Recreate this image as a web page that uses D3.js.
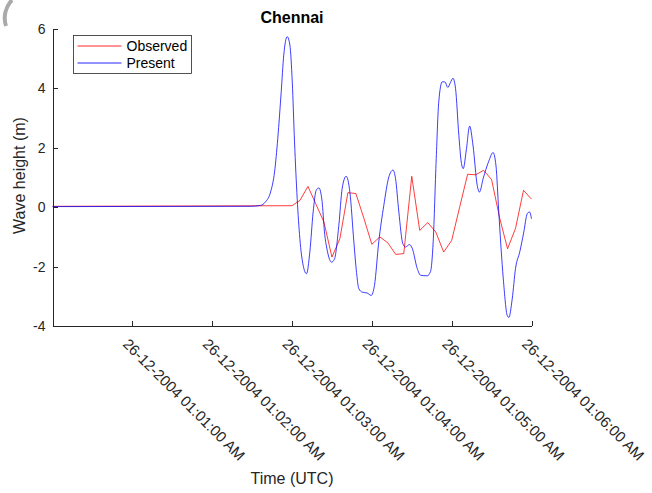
<!DOCTYPE html>
<html>
<head>
<meta charset="utf-8">
<script src="https://cdn.jsdelivr.net/npm/d3@7"></script>
<style>
  body { margin: 0; background: #fff; }
  svg { font-family: "Liberation Sans", Arial, Helvetica, sans-serif; }
</style>
</head>
<body>
<svg id="chart" width="652" height="493"></svg>
<script>
// seconds after 26-12-2004 01:00:00 UTC, and wave height (m)
var presentSec = [0, 148.8, 156.3, 160.1, 163.9, 166.9, 169.3, 171.9, 173.8, 176.4, 178.4, 180.2, 181.9, 183.9,
  185.9, 188.4, 190.9, 193.4, 195.9, 198.2, 200.2, 202.6, 204.4, 206.7, 209.7, 211.9, 215.2, 217.7, 220.7, 223.5,
  226.5, 228.5, 230.2, 232.8, 236.5, 239.5, 242.0, 245.2, 249.0, 252.8, 255.9, 257.8, 260.3, 263.3, 265.3, 268.3,
  270.4, 274.1, 276.6, 281.6, 284.1, 286.1, 288.4, 290.3, 292.9, 294.9, 297.1, 299.1, 301.0, 302.9, 305.4, 307.2,
  308.7, 311.0, 313.5, 316.1, 319.2, 320.9, 323.7, 327.9, 331.1, 333.3, 335.4, 338.8, 341.8, 343.0, 345.5, 348.0,
  351.2, 354.2, 356.8, 358.5, 360];
var presentVal = [0.02, 0.03, 0.06, 0.18, 0.51, 1.19, 2.31, 3.89, 5.12, 5.74, 5.46, 4.22, 2.2, 0.29,
  -1.06, -1.96, -2.24, -1.51, -0.16, 0.57, 0.65, 0.2, -0.83, -1.5, -1.85, -1.75, -0.61, 0.63, 1.04, 0.51,
  -1.17, -2.2, -2.74, -2.86, -2.89, -2.97, -2.63, -1.17, 0.06, 1.02, 1.25, 0.97, -0.16, -1.23, -1.34, -1.26,
  -1.39, -2.06, -2.29, -2.31, -2.17, -1.17, 1.64, 3.55, 4.22, 4.22, 4.03, 4.2, 4.34, 4.0, 2.42, 1.52,
  1.3, 1.92, 2.73, 2.06, 0.74, 0.51, 0.97, 1.55, 1.84, 1.4, -0.16, -2.41, -3.65, -3.71, -3.09, -2.06,
  -1.5, -0.84, -0.22, -0.16, -0.39];

var observedSec = [0, 180, 186, 192, 198, 204, 210, 216, 222, 228, 234, 240, 246, 252, 258, 264, 270, 276,
  282, 288, 294, 300, 306, 312, 318, 324, 330, 336, 342, 348, 354, 360];
var observedVal = [0.03, 0.05, 0.23, 0.70, 0.10, -0.50, -1.68, -1.06, 0.49, 0.46, -0.37, -1.25, -1.0, -1.2,
  -1.59, -1.56, 1.04, -0.78, -0.52, -0.83, -1.51, -1.12, 0.0, 1.11, 1.09, 1.24, 0.93, -0.35, -1.40, -0.71,
  0.57, 0.27];

var yTicks = [-4, -2, 0, 2, 4, 6];
var xTickMinutes = [1, 2, 3, 4, 5, 6];
var seriesNames = ["Observed", "Present"];
var seriesColors = ["#ff0000", "#0000ff"];

var t0 = Date.UTC(2004, 11, 26, 1, 0, 0);
var margin = {top: 29, right: 120.5, bottom: 167, left: 52.5},
    width = 652 - margin.left - margin.right,
    height = 493 - margin.top - margin.bottom;

var svg = d3.select("#chart");
var g = svg.append("g").attr("transform", "translate(" + margin.left + "," + margin.top + ")");

var x = d3.scaleUtc()
  .domain([new Date(t0), new Date(t0 + 360 * 1000)])
  .range([0, width]);
var y = d3.scaleLinear().domain([-4, 6]).range([height, 0]);

function toPoints(secs, vals) {
  var pts = [];
  for (var i = 0; i < secs.length; i++) {
    pts.push({t: new Date(t0 + secs[i] * 1000), v: vals[i]});
  }
  return pts;
}
var observed = toPoints(observedSec, observedVal);
var present = toPoints(presentSec, presentVal);

// axes, ticks pointing inward
var fmt = d3.utcFormat("%d-%m-%Y %I:%M:%S %p");
var xAxis = d3.axisBottom(x)
  .tickValues(xTickMinutes.map(function(m) { return new Date(t0 + m * 60000); }))
  .tickFormat(fmt)
  .tickSizeInner(-5).tickSizeOuter(0);
var yAxis = d3.axisLeft(y).tickValues(yTicks).tickFormat(function(d) { return String(d); })
  .tickSizeInner(-5).tickSizeOuter(0).tickPadding(7);

var gx = g.append("g").attr("transform", "translate(0," + height + ")").call(xAxis);
var gy = g.append("g").call(yAxis);

[gx, gy].forEach(function(a) {
  a.selectAll("path, line").attr("stroke", "#262626").attr("shape-rendering", "crispEdges");
  a.selectAll("text").attr("fill", "#262626").style("font-size", "14px");
  a.attr("font-family", null);
});

gx.selectAll(".tick text")
  .style("font-size", "15px")
  .attr("y", 0).attr("dy", null)
  .attr("text-anchor", "start")
  .attr("dominant-baseline", "central")
  .attr("transform", "translate(-7,15) rotate(45)");

// lines
var lineObs = d3.line().x(function(d) { return x(d.t); }).y(function(d) { return y(d.v); });
var linePres = d3.line().x(function(d) { return x(d.t); }).y(function(d) { return y(d.v); })
  .curve(d3.curveMonotoneX);

g.append("path").datum(observed)
  .attr("fill", "none").attr("stroke", seriesColors[0]).attr("stroke-width", 0.9)
  .attr("stroke-opacity", 0.85)
  .attr("d", lineObs);
g.append("path").datum(present)
  .attr("fill", "none").attr("stroke", seriesColors[1]).attr("stroke-width", 0.9)
  .attr("stroke-opacity", 0.85)
  .attr("d", linePres);

// title and labels
svg.append("text").attr("x", margin.left + width / 2).attr("y", 22.5)
  .attr("text-anchor", "middle").style("font-size", "16px").style("font-weight", "bold")
  .attr("fill", "#000").text("Chennai");
svg.append("text").attr("x", margin.left + width / 2).attr("y", 484)
  .attr("text-anchor", "middle").style("font-size", "16px")
  .attr("fill", "#262626").text("Time (UTC)");
svg.append("text")
  .attr("transform", "translate(25," + (margin.top + height / 2 - 2) + ") rotate(-90)")
  .attr("text-anchor", "middle").style("font-size", "16px")
  .attr("fill", "#262626").text("Wave height (m)");

// legend
var legend = svg.append("g").attr("transform", "translate(73.5,35.5)");
legend.append("rect").attr("width", 118).attr("height", 38)
  .attr("fill", "#fff").attr("stroke", "#262626").attr("stroke-width", 0.8);
seriesNames.forEach(function(name, i) {
  var ly = 10.5 + i * 17;
  legend.append("line").attr("x1", 4).attr("x2", 48).attr("y1", ly).attr("y2", ly)
    .attr("stroke", seriesColors[i]).attr("stroke-width", 1).attr("stroke-opacity", 0.85);
  legend.append("text").attr("x", 53).attr("y", ly).attr("dominant-baseline", "central")
    .style("font-size", "14px").attr("fill", "#000").text(name);
});

// stray grey arc in the top-left corner of the screenshot
svg.append("path")
  .attr("d", "M12,0 A26,26 0 0,0 6,26")
  .attr("fill", "none").attr("stroke", "#aaa").attr("stroke-width", 4);
</script>
</body>
</html>
